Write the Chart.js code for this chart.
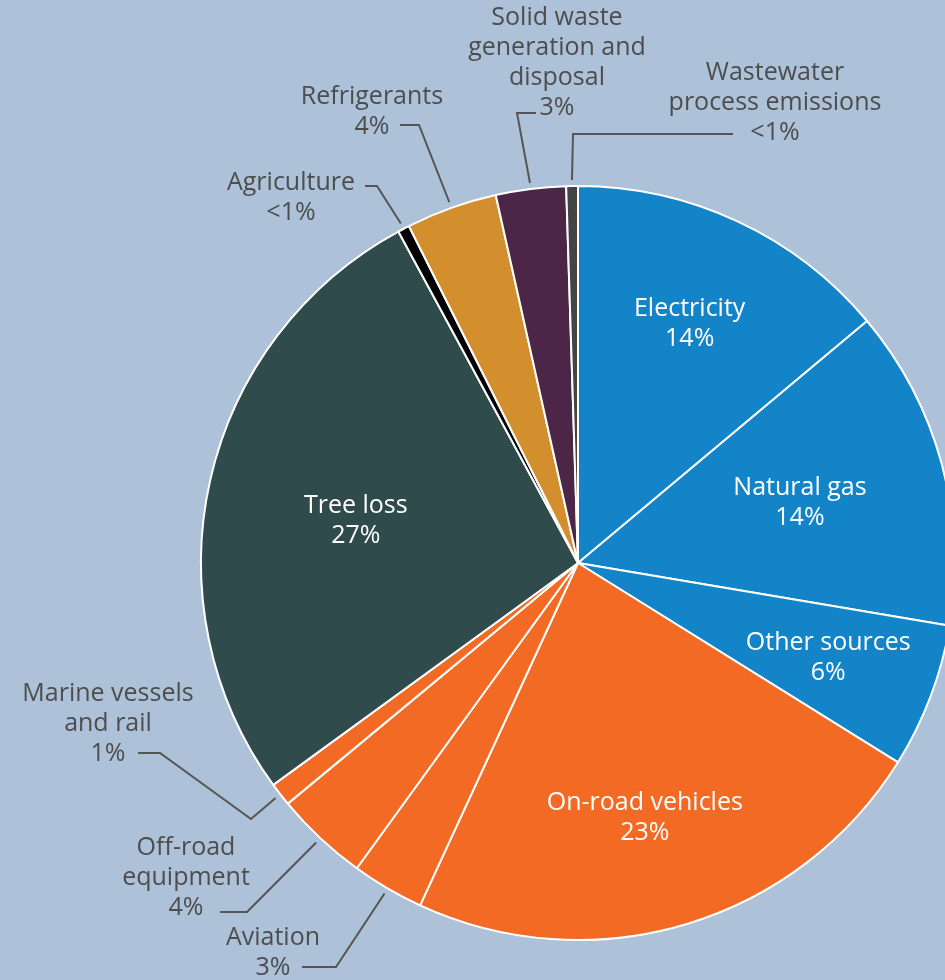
<!DOCTYPE html>
<html>
<head>
<meta charset="utf-8">
<script src="https://cdn.jsdelivr.net/npm/chart.js@4/dist/chart.umd.min.js"></script>
<style>
    html, body { margin: 0; padding: 0; background: #adc2d8; overflow: hidden; }
    #wrap { width: 960px; height: 980px; }
</style>
</head>
<body>
<div id="wrap"><canvas id="pie" width="960" height="980"></canvas></div>
<script>
// emission sources, clockwise from 12 o'clock
const sources = [
    'Electricity', 'Natural gas', 'Other sources', 'On-road vehicles',
    'Aviation', 'Off-road equipment', 'Marine vessels and rail', 'Tree loss',
    'Agriculture', 'Refrigerants', 'Solid waste generation and disposal',
    'Wastewater process emissions'
];
const shares = [13.9, 13.75, 6.2, 23.0, 3.1, 4.0, 1.0, 27.1, 0.5, 3.9, 3.0, 0.5];
const shareLabels = ['14%', '14%', '6%', '23%', '3%', '4%', '1%', '27%', '<1%', '4%', '3%', '<1%'];
const sliceColors = [
    '#1384c8', '#1384c8', '#1384c8', '#f26a24',
    '#f26a24', '#f26a24', '#f26a24', '#304b4c',
    '#000000', '#d38f2e', '#4b2646', '#444444'
];

const FONT = '25px "Open Sans", sans-serif';

// labels drawn inside the slice: slice index, text lines, radius factor, angle nudge (deg)
const insideLabels = [
    { i: 0, lines: ['Electricity'], r: 0.70, da: 0 },
    { i: 1, lines: ['Natural gas'], r: 0.61, da: 0 },
    { i: 2, lines: ['Other sources'], r: 0.71, da: 0 },
    { i: 3, lines: ['On-road vehicles'], r: 0.70, da: 2 },
    { i: 7, lines: ['Tree loss'], r: 0.60, da: -2 }
];

// callouts outside the pie, offsets relative to the pie centre
const callouts = [
    { i: 11, lines: ['Wastewater', 'process emissions'], path: [[-5, -429], [155, -429]], tx: 197, ty: -490 },
    { i: 10, lines: ['Solid waste', 'generation and', 'disposal'], path: [[-61, -450], [-42, -450]], tx: -21, ty: -545 },
    { i: 9, lines: ['Refrigerants'], path: [[-159, -438], [-178, -438]], tx: -206, ty: -466 },
    { i: 8, lines: ['Agriculture'], path: [[-201, -377], [-213, -377]], tx: -287, ty: -380 },
    { i: 6, lines: ['Marine vessels', 'and rail'], path: [[-327, 256], [-418, 190], [-440, 190]], tx: -470, ty: 131 },
    { i: 5, lines: ['Off-road', 'equipment'], path: [[-331, 349], [-358, 349]], tx: -392, ty: 285 },
    { i: 4, lines: ['Aviation'], path: [[-242, 404], [-276, 404]], tx: -305, ty: 375 }
];

const LINE_H = 30;

const pieLabels = {
    id: 'pieLabels',
    afterDatasetsDraw(chart) {
        const ctx = chart.ctx;
        const arcs = chart.getDatasetMeta(0).data;
        ctx.save();
        ctx.font = FONT;
        ctx.textAlign = 'center';
        ctx.textBaseline = 'middle';

        insideLabels.forEach(lab => {
            const arc = arcs[lab.i];
            const mid = (arc.startAngle + arc.endAngle) / 2 + lab.da * Math.PI / 180;
            const cx = arc.x + Math.cos(mid) * arc.outerRadius * lab.r;
            const cy = arc.y + Math.sin(mid) * arc.outerRadius * lab.r;
            const all = lab.lines.concat(shareLabels[lab.i]);
            const top = cy - (all.length - 1) * LINE_H / 2;
            ctx.fillStyle = '#ffffff';
            all.forEach((t, k) => ctx.fillText(t, cx, top + k * LINE_H));
        });

        callouts.forEach(c => {
            const arc = arcs[c.i];
            const mid = (arc.startAngle + arc.endAngle) / 2;
            const r = arc.outerRadius + 6;
            ctx.beginPath();
            ctx.moveTo(arc.x + Math.cos(mid) * r, arc.y + Math.sin(mid) * r);
            c.path.forEach(p => ctx.lineTo(arc.x + p[0], arc.y + p[1]));
            ctx.strokeStyle = '#555555';
            ctx.lineWidth = 2;
            ctx.stroke();

            const all = c.lines.concat(shareLabels[c.i]);
            ctx.fillStyle = '#4d4d4d';
            all.forEach((t, k) => ctx.fillText(t, arc.x + c.tx, arc.y + c.ty + k * LINE_H));
        });
        ctx.restore();
    }
};

new Chart(document.getElementById('pie'), {
    type: 'pie',
    data: {
        labels: sources,
        datasets: [{
            data: shares,
            backgroundColor: sliceColors,
            borderColor: '#ffffff',
            borderWidth: 2
        }]
    },
    options: {
        responsive: false,
        animation: false,
        layout: { padding: { left: 200, right: 4, top: 185, bottom: 39 } },
        plugins: {
            legend: { display: false },
            tooltip: { enabled: false }
        }
    },
    plugins: [pieLabels]
});
</script>
</body>
</html>
